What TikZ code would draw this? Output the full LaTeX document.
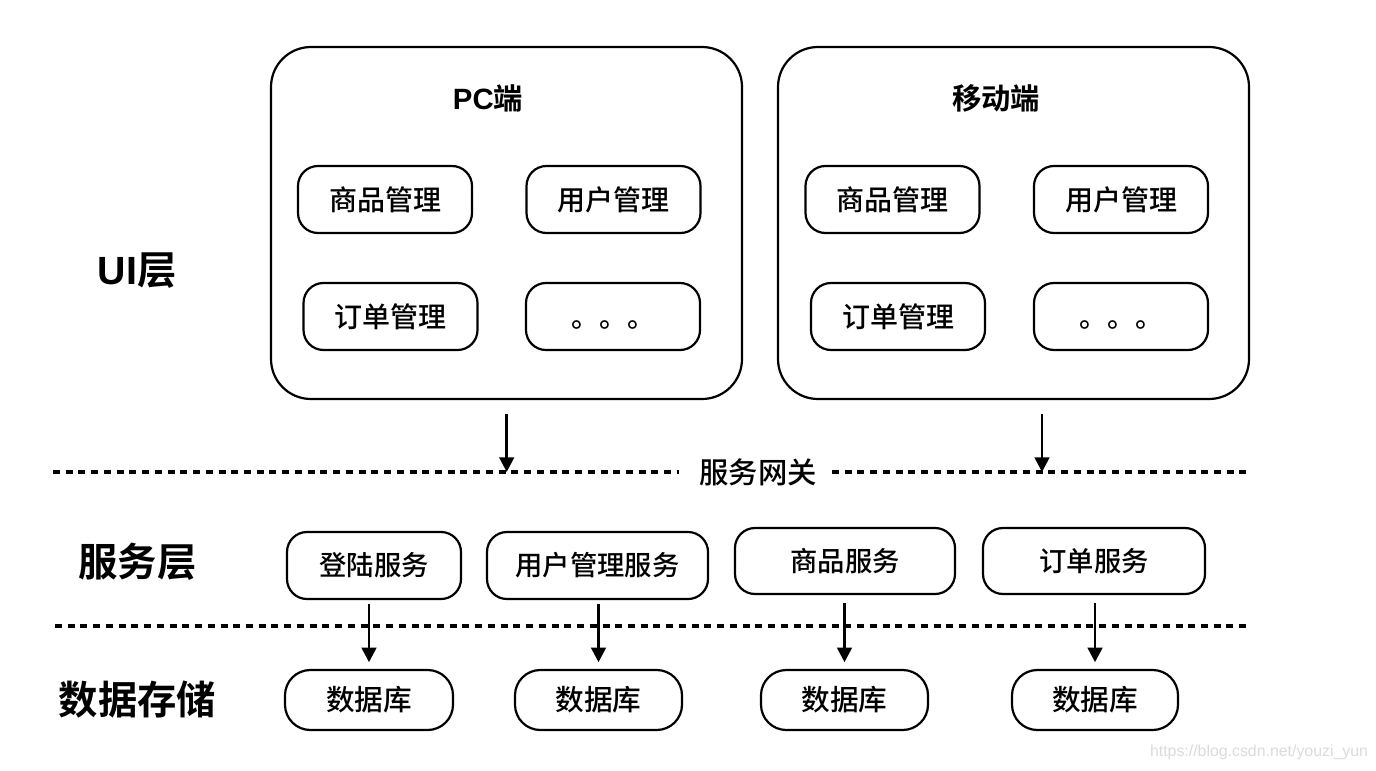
\documentclass[tikz,border=0pt]{standalone}
\usepackage{fontspec}
\usetikzlibrary{arrows.meta}
\newfontfamily\cjkm{Noto Sans CJK SC Medium}
\newfontfamily\cjkb{Noto Sans CJK SC Bold}
\newfontfamily\latb{Liberation Sans}[BoldFont={Liberation Sans Bold}]
\newfontfamily\wmfont{Liberation Sans}
\newcommand\fsz[1]{\fontsize{#1}{1.2\dimexpr#1\relax}\selectfont}
\newcommand\lowdots{\raisebox{-6.5pt}[\height][\depth]{。。。}}
\tikzset{
  line/.style={line width=1.65pt, draw=black},
  outerbox/.style={line, rounded corners=30pt, minimum width=353.25pt, minimum height=264pt, inner sep=0pt},
  modbox/.style={line, rounded corners=15pt, minimum height=50.25pt, inner sep=0pt, font=\cjkm\fsz{21pt}},
  dbbox/.style={line, rounded corners=19pt, minimum height=45pt, inner sep=0pt, font=\cjkm\fsz{21.5pt}},
  title/.style={font=\cjkb\fsz{22pt}, inner sep=0pt},
  layer/.style={font=\cjkb\fsz{29.5pt}, inner sep=0pt},
  sep/.style={line width=2.3pt, dash pattern=on 5.25pt off 4.3pt},
  arr/.style={line width=2pt, -{Triangle[width=11pt,length=11pt]}}
}
\begin{document}
\begin{tikzpicture}[x=0.75pt,y=-0.75pt]
\useasboundingbox (0,0) rectangle (1376,770);
\fill[white] (0,0) rectangle (1376,770);

% layer names
\node[layer] (ui)  at (137,271) {{\latb\bfseries UI}层};
\node[layer] (svc) at (137.5,562) {服务层};
\node[layer] (dat) at (137.5,700) {数据存储};

% UI layer: PC client
\node[outerbox] (pc) at (506.5,223) {};
\node[title] (pct) at (488,98) {{\latb\bfseries PC}端};
\node[modbox, minimum width=130.5pt] (pca) at (385,199.5) {商品管理};
\node[modbox, minimum width=130.5pt] (pcb) at (613.5,199.5) {用户管理};
\node[modbox, minimum width=130.5pt] (pcc) at (390.5,316.5) {订单管理};
\node[modbox, minimum width=130.5pt] (pcd) at (613,316.5) {\lowdots};

% UI layer: mobile client
\node[outerbox] (mb) at (1013.5,223) {};
\node[title] (mbt) at (996,98) {移动端};
\node[modbox, minimum width=130.5pt] (mba) at (892.5,199.5) {商品管理};
\node[modbox, minimum width=130.5pt] (mbb) at (1121,199.5) {用户管理};
\node[modbox, minimum width=130.5pt] (mbc) at (898,316.5) {订单管理};
\node[modbox, minimum width=130.5pt] (mbd) at (1121,316.5) {\lowdots};

% gateway line
\coordinate (g1) at (53,472);
\coordinate (g2) at (679,472);
\coordinate (g3) at (832,472);
\coordinate (g4) at (1247,472);
\node[font=\cjkm\fsz{22pt}, inner sep=0pt] (gw) at (758,472) {服务网关};
\draw[sep] (g1) -- (g2);
\draw[sep] (g3) -- (g4);
\coordinate (pcin) at (506.7,472);
\coordinate (mbin) at (1042,472);
\draw[arr, shorten <=10.5pt] (pc.south -| pcin) -- (pcin);
\draw[arr, shorten <=10.5pt] (mb.south -| mbin) -- (mbin);

% service layer
\node[modbox, minimum width=130.5pt, font=\cjkm\fsz{20.5pt}] (s1) at (374,565.5) {登陆服务};
\node[modbox, minimum width=165.75pt, font=\cjkm\fsz{20.5pt}] (s2) at (597.5,565.5) {用户管理服务};
\node[modbox, minimum width=165pt, minimum height=49.5pt, font=\cjkm\fsz{20.5pt}] (s3) at (845,561) {商品服务};
\node[modbox, minimum width=166.5pt, minimum height=49.5pt, font=\cjkm\fsz{20.5pt}] (s4) at (1094,561) {订单服务};

% storage line
\coordinate (h1) at (55,626);
\coordinate (h2) at (1247,626);
\draw[sep] (h1) -- (h2);

% storage layer
\node[dbbox, minimum width=126pt] (d1) at (369,700) {数据库};
\node[dbbox, minimum width=125.25pt] (d2) at (598.5,700) {数据库};
\node[dbbox, minimum width=125.25pt] (d3) at (844.5,700) {数据库};
\node[dbbox, minimum width=124.5pt] (d4) at (1095,700) {数据库};

\draw[arr, shorten <=3pt, shorten >=5pt] (s1.south -| d1) -- (d1.north);
\draw[arr, shorten <=3pt, shorten >=5pt] (s2.south -| d2) -- (d2.north);
\draw[arr, shorten <=6pt, shorten >=5pt] (s3.south -| d3) -- (d3.north);
\draw[arr, shorten <=6pt, shorten >=5pt] (s4.south -| d4) -- (d4.north);

% watermark
\node[font=\wmfont\fsz{11.9pt}, text=black!14, inner sep=0pt] (wm) at (1259,752) {https://blog.csdn.net/youzi\_yun};
\end{tikzpicture}
\end{document}
